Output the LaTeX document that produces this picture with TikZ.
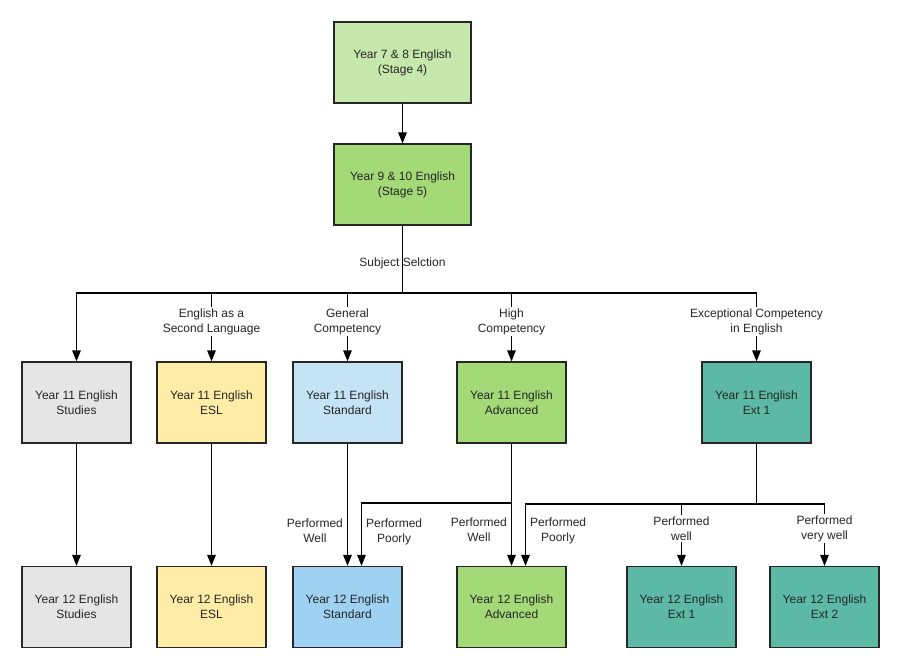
\documentclass[tikz,border=0pt]{standalone}
\usepackage{fontspec}
\setmainfont{Liberation Sans}
\usetikzlibrary{arrows.meta,positioning}
\definecolor{stagefour}{HTML}{C7E8AC}
\definecolor{stagefive}{HTML}{A3D977}
\definecolor{studies}{HTML}{E5E5E5}
\definecolor{esl}{HTML}{FFECA7}
\definecolor{stdlight}{HTML}{C4E4F6}
\definecolor{stddark}{HTML}{9ED1F2}
\definecolor{ext}{HTML}{5BB9A6}
\tikzset{course/.style={draw=black!85,line width=1.2pt,minimum width=109pt,minimum height=81pt,align=center},
  stage/.style={course,minimum width=137pt},
  arr/.style={-{Triangle[width=8.5pt,length=11pt]}},
  cut/.style={fill=white,inner sep=1.5pt,align=center},
  side/.style={inner sep=1pt,align=center}}

\begin{document}
\begin{tikzpicture}[x=1pt,y=-1pt,line width=1.2pt,text=black!85,font=\fontsize{12}{15}\selectfont]
            \useasboundingbox (0,0) rectangle (899,661);
            \node [stage,fill=stagefour] (s78) at (402.5,62.5) {Year 7 \& 8 English\\(Stage 4)};
            \node [stage,fill=stagefive] (s910) at (402.5,184.5) {Year 9 \& 10 English\\(Stage 5)};

            \node [course,fill=studies] (studies11) at (76.5,402.5) {Year 11 English\\Studies};
            \node [course,fill=esl] (esl11) at (211.5,402.5) {Year 11 English\\ESL};
            \node [course,fill=stdlight] (std11) at (347.5,402.5) {Year 11 English\\Standard};
            \node [course,fill=stagefive] (adv11) at (511.5,402.5) {Year 11 English\\Advanced};
            \node [course,fill=ext] (ext11) at (756.5,402.5) {Year 11 English\\Ext 1};

            \node [course,fill=studies] (studies12) at (76.5,607) {Year 12 English\\Studies};
            \node [course,fill=esl] (esl12) at (211.5,607) {Year 12 English\\ESL};
            \node [course,fill=stddark] (std12) at (347.5,607) {Year 12 English\\Standard};
            \node [course,fill=stagefive] (adv12) at (511.5,607) {Year 12 English\\Advanced};
            \node [course,fill=ext] (ext12) at (681.5,607) {Year 12 English\\Ext 1};
            \node [course,fill=ext] (extb12) at (824.5,607) {Year 12 English\\Ext 2};

            \coordinate (split) at (402.5,293);
            \coordinate (advsplit) at (511.5,503);
            \coordinate (extsplit) at (756.5,504);

            \draw [arr] (s78) -- (s910);
            \draw (s910) -- node [side,pos=0.56] {Subject Selction} (split);
            \draw [arr] (split) -| (studies11);
            \draw [arr] (split) -| node [cut,pos=0.71] {English as a\\Second Language} (esl11);
            \draw [arr] (split) -| node [cut,pos=0.71] {General\\Competency} (std11);
            \draw [arr] (split) -| node [cut,pos=0.71] {High\\Competency} (adv11);
            \draw [arr] (split) -| node [cut,pos=0.71] {Exceptional Competency\\in English} (ext11);

            % year 11 to year 12
            \draw [arr] (studies11) -- (studies12);
            \draw [arr] (esl11) -- (esl12);
            \draw [arr] (std11) -- node [side,left=3pt,pos=0.71] {Performed\\Well} (std12);
            \draw [arr] (adv11) -- node [side,left=3pt,pos=0.7] {Performed\\Well} (adv12);
            \draw [arr] (advsplit) -| node [side,right=3pt,pos=0.73] {Performed\\Poorly} ([xshift=14pt]std12.north);
            \draw (ext11) -- (extsplit);
            \draw [arr] (extsplit) -| node [side,right=3pt,pos=0.72] {Performed\\Poorly} ([xshift=14pt]adv12.north);
            \draw [arr] (extsplit) -| node [cut,pos=0.7] {Performed\\well} (ext12);
            \draw [arr] (extsplit) -| node [cut,pos=0.7] {Performed\\very well} (extb12);
        \end{tikzpicture}
\end{document}
